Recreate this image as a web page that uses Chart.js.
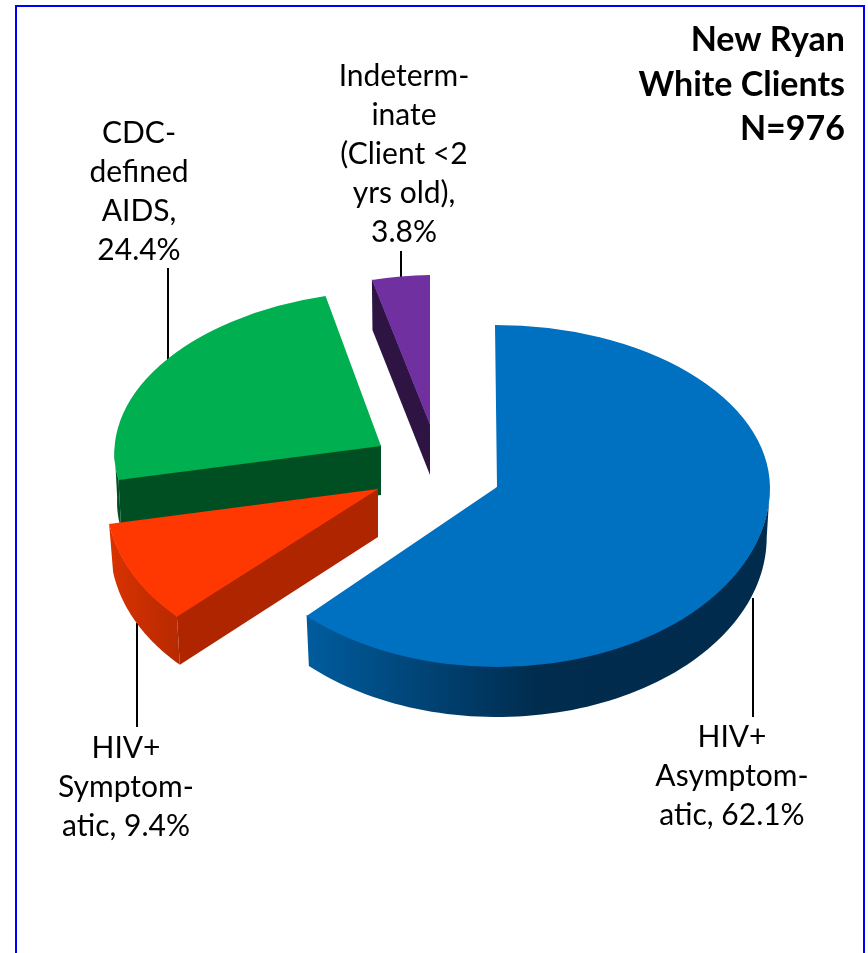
<!DOCTYPE html>
<html>
<head>
<meta charset="utf-8">
<title>New Ryan White Clients</title>
<script src="https://cdn.jsdelivr.net/npm/chart.js@4/dist/chart.umd.min.js"></script>
<style>
  html, body { margin: 0; padding: 0; background: #fff; overflow: hidden; }
  #frame { position: absolute; left: 15px; top: 5px; width: 846px; height: 960px; border: 2px solid #0000ff; }
  #grafico { position: absolute; left: 0; top: 0; }
</style>
</head>
<body>
<div id="frame"></div>
<canvas id="grafico" width="868" height="953"></canvas>
<script>
// Dados
const categorias = ["HIV+ Asymptomatic", "HIV+ Symptomatic", "CDC-defined AIDS", "Indeterminate (Client <2 yrs old)"]
const valores = [62.1, 9.4, 24.4, 3.8]
const titulo = ["New Ryan", "White Clients", "N=976"]
const rotulos = [
  ["HIV+", "Asymptom-", `atic, ${valores[0]}%`],
  ["HIV+", "Symptom-", `atic, ${valores[1]}%`],
  ["CDC-", "defined", "AIDS,", `${valores[2]}%`],
  ["Indeterm-", "inate", "(Client <2", "yrs old),", `${valores[3]}%`]
]

// Cores
const coresTopo = ["#0070c0", "#ff3700", "#00b050", "#7030a0"]
const coresCorte = ["#002b4d", "#ae2500", "#004f23", "#2e1443"]
const coresBorda = [
  [[0, "#005c9e"], [0.5, "#002c4e"], [1, "#002b4d"]],
  [[0, "#d93200"], [1, "#b82a00"]],
  [[0, "#004f23"], [1, "#004f23"]],
  [[0, "#2e1443"], [1, "#2e1443"]]
]

// Perspectiva de cada fatia: vértice, matriz do topo, altura da parede
const RAIO = 100
const vertices = [[497, 487], [378, 489], [381, 446], [430, 425]]
const matrizes = [
  [273, 0, 0, 180],
  [271.3, 2, -16.6, 180.3],
  [266.5, -2.4, -8, 154.9],
  [245, -3.4, 0, 150]
]
const matrizSuperiorAzul = [273, 0, 2, 162] // metade de trás da fatia azul
const alturas = [50, 48, 49, 50]
const recuos = [0.012, 0.015, 0.01, 0.01]
const ordemDesenho = [3, 2, 1, 0]

// Rótulos: centro x, y da primeira linha
const posRotulos = [[732, 737], [126, 748], [139, 133], [404, 76]]
const ENTRELINHA = 39
const guias = [[753, 598, 717], [137, 623, 727], [168, 268, 362], [401, 251, 278]]

function pontoTopo(i, angulo, m = matrizes[i]) {
  const ux = Math.cos(angulo), uy = Math.sin(angulo)
  return [
    vertices[i][0] + m[0] * ux + m[2] * uy,
    vertices[i][1] + m[1] * ux + m[3] * uy
  ]
}

function pontoBase(i, p) {
  return [p[0] - (p[0] - vertices[i][0]) * recuos[i], p[1] + alturas[i]]
}

function desenhaParedes(ctx, i, arc) {
  // parede do corte (sobe 1px por baixo do topo para não deixar emenda clara)
  const a = vertices[i]
  const b = pontoTopo(i, arc.startAngle)
  const c = pontoBase(i, b)
  const d = pontoBase(i, a)
  ctx.fillStyle = coresCorte[i]
  ctx.beginPath()
  ctx.moveTo(a[0], a[1] - 1)
  ctx.lineTo(b[0], b[1] - 1)
  ctx.lineTo(c[0], c[1])
  ctx.lineTo(d[0], d[1])
  ctx.closePath()
  ctx.fill()

  // parede externa: só a parte que fica de frente
  const ini = Math.max(arc.startAngle, 0)
  const fim = Math.min(arc.endAngle, Math.PI)
  if (fim <= ini) return
  const cima = []
  for (let k = 0; k <= 80; k++) cima.push(pontoTopo(i, ini + (fim - ini) * k / 80))
  const baixo = cima.map(p => pontoBase(i, p)).reverse()
  const xs = cima.map(p => p[0])
  const grad = ctx.createLinearGradient(Math.min(...xs), 0, Math.max(...xs), 0)
  coresBorda[i].forEach(s => grad.addColorStop(s[0], s[1]))
  ctx.fillStyle = grad
  ctx.beginPath()
  cima.map(p => [p[0], p[1] - 1]).concat(baixo).forEach((p, k) => k ? ctx.lineTo(p[0], p[1]) : ctx.moveTo(p[0], p[1]))
  ctx.closePath()
  ctx.fill()
}

function desenhaTopo(ctx, i, arc, m) {
  ctx.save()
  ctx.transform(m[0] / RAIO, m[1] / RAIO, m[2] / RAIO, m[3] / RAIO, vertices[i][0], vertices[i][1])
  ctx.translate(-arc.x, -arc.y)
  arc.draw(ctx)
  ctx.restore()
}

const pizza3d = {
  id: "pizza3d",
  beforeDatasetDraw(chart) {
    const ctx = chart.ctx
    const arcos = chart.getDatasetMeta(0).data

    // guias dos rótulos ficam atrás da pizza
    ctx.save()
    ctx.strokeStyle = "#000"
    ctx.lineWidth = 2
    guias.forEach(g => {
      ctx.beginPath()
      ctx.moveTo(g[0], g[1])
      ctx.lineTo(g[0], g[2])
      ctx.stroke()
    })
    ctx.restore()

    ordemDesenho.forEach(i => {
      const arc = arcos[i]
      desenhaParedes(ctx, i, arc)
      if (i === 0) {
        // a fatia azul tem perspectiva diferente atrás e na frente do vértice
        ctx.save()
        ctx.beginPath()
        ctx.rect(0, 0, chart.width, vertices[0][1] + 0.5)
        ctx.clip()
        desenhaTopo(ctx, i, arc, matrizSuperiorAzul)
        ctx.restore()
        ctx.save()
        ctx.beginPath()
        ctx.rect(0, vertices[0][1], chart.width, chart.height)
        ctx.clip()
        desenhaTopo(ctx, i, arc, matrizes[0])
        ctx.restore()
      } else {
        desenhaTopo(ctx, i, arc, matrizes[i])
      }
    })

    // rótulos
    ctx.save()
    ctx.fillStyle = "#000"
    ctx.font = "30px Lato"
    ctx.textAlign = "center"
    ctx.textBaseline = "middle"
    rotulos.forEach((linhas, i) => {
      linhas.forEach((t, k) => ctx.fillText(t, posRotulos[i][0], posRotulos[i][1] + k * ENTRELINHA))
    })
    ctx.restore()
    return false
  }
}

new Chart(document.getElementById("grafico"), {
  type: "pie",
  data: {
    labels: categorias,
    datasets: [{
      data: valores,
      backgroundColor: coresTopo,
      borderWidth: 0
    }]
  },
  options: {
    responsive: false,
    animation: false,
    radius: RAIO,
    layout: { padding: { top: 18, right: 23 } },
    plugins: {
      legend: { display: false },
      tooltip: { enabled: false },
      title: {
        display: true,
        text: titulo,
        align: "end",
        color: "#000",
        padding: 0,
        font: { family: "Lato", size: 34, weight: "bold", lineHeight: 1.31 }
      }
    }
  },
  plugins: [pizza3d]
})
</script>
</body>
</html>
